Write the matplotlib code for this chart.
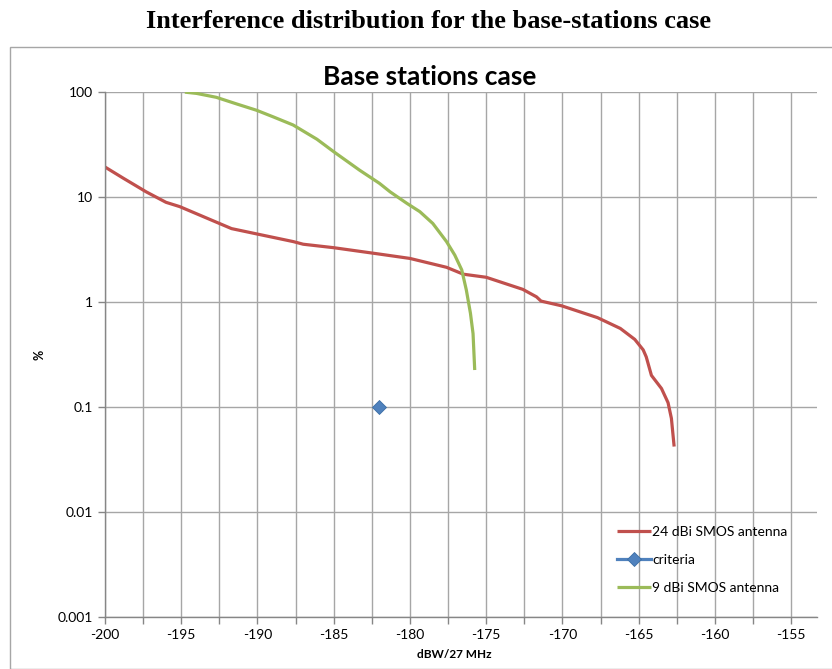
import matplotlib
matplotlib.use("Agg")
import matplotlib.pyplot as plt
from matplotlib.patches import Rectangle
from matplotlib.ticker import FixedLocator, NullFormatter, MultipleLocator

# Data
red_x = [-200.0, -198.8, -197.3, -196.0, -195.1, -192.5, -191.7, -190.05, -187.65, -187.0,
         -185.0, -182.0, -180.0, -177.6, -176.5, -175.0, -172.6, -171.7, -171.4, -170.05,
         -167.7, -166.2, -165.25, -164.7, -164.5, -164.16, -163.5, -163.07, -162.85, -162.67]
red_y = [19.3, 15.1, 11.2, 8.9, 8.1, 5.6, 5.0, 4.45, 3.76, 3.55,
         3.29, 2.86, 2.6, 2.14, 1.84, 1.72, 1.32, 1.12, 1.02, 0.92,
         0.71, 0.56, 0.44, 0.35, 0.30, 0.20, 0.15, 0.11, 0.078, 0.042]

green_x = [-194.76, -194.0, -192.7, -191.37, -190.06, -188.97, -187.66, -186.1, -185.0, -183.3,
           -182.0, -181.3, -180.2, -179.35, -178.5, -177.6, -177.06, -176.6, -176.3, -176.03,
           -175.86, -175.75]
green_y = [99.7, 97, 89, 77, 67, 58, 48.5, 35.5, 27, 18,
           13.5, 11.2, 8.7, 7.25, 5.6, 3.76, 2.8, 2.02, 1.3, 0.78,
           0.50, 0.225]

crit_x = [-182]
crit_y = [0.1]

labels = ["24 dBi SMOS antenna", "criteria", "9 dBi SMOS antenna"]
x_ticks = [-200, -195, -190, -185, -180, -175, -170, -165, -160, -155]
y_ticks = [0.001, 0.01, 0.1, 1, 10, 100]
y_tick_labels = ["0.001", "0.01", "0.1", "1", "10", "100"]

W, H = 832, 669
fig = plt.figure(figsize=(W / 100, H / 100), dpi=100)
fig.patch.set_facecolor("white")

# outer chart border
fig.patches.append(Rectangle((10 / W, 0), 1.2, (H - 47) / H, transform=fig.transFigure,
                             fill=False, edgecolor="#a6a6a6", linewidth=1.0))

fig.text(429 / W, 1 - 22 / H, "Interference distribution for the base-stations case",
         ha="center", va="center", fontsize=19, fontweight="bold", family="Liberation Serif")

ax = fig.add_axes([105 / W, 1 - 617 / H, (817 - 105) / W, (617 - 92) / H])
ax.set_yscale("log")
ax.set_xlim(-200, -153.3)
ax.set_ylim(0.001, 100)

ax.plot(red_x, red_y, color="#c0504d", lw=2.3, label=labels[0], solid_capstyle="butt")
ax.plot(crit_x, crit_y, color="#4f81bd", lw=2.3, marker="D", markersize=7,
        markeredgecolor="#3a6ea5", markeredgewidth=0.6, label=labels[1])
ax.plot(green_x, green_y, color="#9bbb59", lw=2.3, label=labels[2], solid_capstyle="butt")

ax.xaxis.set_major_locator(FixedLocator(x_ticks))
ax.xaxis.set_minor_locator(MultipleLocator(2.5))
ax.set_xticklabels([str(v) for v in x_ticks])
ax.yaxis.set_major_locator(FixedLocator(y_ticks))
ax.yaxis.set_minor_locator(FixedLocator([]))
ax.yaxis.set_minor_formatter(NullFormatter())
ax.set_yticklabels(y_tick_labels)

ax.grid(True, which="major", axis="both", color="#a6a6a6", lw=1.0)
ax.grid(True, which="minor", axis="x", color="#a6a6a6", lw=1.0)
ax.set_axisbelow(True)

for s in ["top", "right"]:
    ax.spines[s].set_visible(False)
for s in ["left", "bottom"]:
    ax.spines[s].set_color("#868686")
    ax.spines[s].set_linewidth(1.0)

ax.tick_params(axis="both", which="major", direction="out", length=5, color="#868686",
               labelsize=10, labelcolor="black", width=1.0)
ax.tick_params(axis="x", which="minor", direction="out", length=5, color="#868686", width=1.0)
for lab in ax.get_xticklabels() + ax.get_yticklabels():
    lab.set_family("Lato")

fig.text(430 / W, 1 - 77 / H, "Base stations case", ha="center", va="center",
         fontsize=19, fontweight="bold", family="Lato")
ax.set_xlabel("dBW/27 MHz", fontsize=8.5, fontweight="bold", family="Lato", labelpad=9)
ax.xaxis.set_label_coords((454 - 105) / (817 - 105), -0.06)
ax.set_ylabel("%", fontsize=9, fontweight="bold", family="Lato")
ax.yaxis.set_label_coords((45 - 105) / (817 - 105), 0.5)

leg = ax.legend(loc="lower right", bbox_to_anchor=(0.976, 0.02), frameon=False,
                prop={"family": "Lato", "size": 10}, handlelength=2.4, handletextpad=0.1,
                labelspacing=1.15)

fig.savefig("out.png", dpi=100, facecolor="white")
